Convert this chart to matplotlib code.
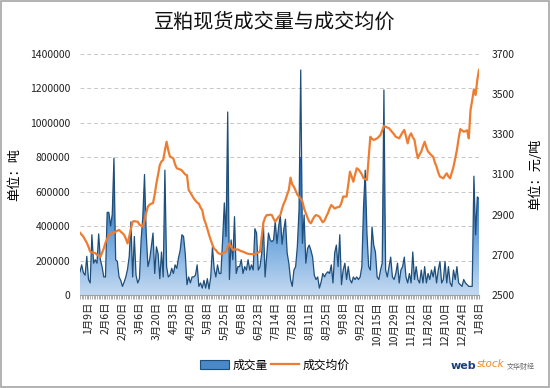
import numpy as np
import matplotlib.pyplot as plt
from matplotlib.colors import LinearSegmentedColormap
from matplotlib.patches import Patch, Rectangle
from matplotlib.lines import Line2D

plt.rcParams['font.family'] = ['Noto Sans CJK SC', 'DejaVu Sans']

# daily volume (tonnes)
volume_k = [
    135, 175, 130, 115, 225, 90, 70, 350, 185, 205,
    185, 355, 205, 165, 105, 105, 480, 480, 400, 470,
    795, 205, 195, 105, 85, 50, 75, 105, 150, 225,
    425, 105, 340, 115, 70, 95, 320, 455, 700, 360,
    165, 205, 280, 360, 125, 280, 240, 95, 250, 105,
    725, 165, 105, 115, 155, 125, 175, 155, 215, 260,
    350, 340, 240, 60, 105, 70, 105, 105, 115, 175,
    50, 70, 40, 85, 40, 95, 35, 105, 280, 155,
    105, 175, 125, 125, 320, 535, 340, 1063, 90, 320,
    205, 455, 125, 165, 165, 205, 125, 165, 145, 205,
    145, 175, 145, 385, 360, 145, 165, 240, 420, 105,
    230, 360, 320, 310, 320, 430, 300, 400, 460, 295,
    380, 440, 245, 185, 90, 50, 145, 165, 280, 495,
    1307, 300, 465, 185, 270, 290, 260, 220, 115, 90,
    105, 40, 75, 125, 105, 125, 135, 125, 175, 70,
    245, 290, 165, 350, 60, 145, 185, 90, 165, 90,
    70, 105, 90, 105, 90, 105, 165, 515, 725, 360,
    165, 145, 395, 290, 250, 105, 90, 145, 185, 1191,
    145, 105, 165, 220, 105, 90, 125, 185, 70, 145,
    165, 220, 105, 70, 125, 70, 250, 90, 165, 90,
    70, 145, 70, 165, 70, 125, 90, 145, 105, 165,
    70, 145, 195, 70, 90, 195, 70, 165, 70, 50,
    145, 90, 165, 70, 60, 50, 90, 70, 60, 50,
    50, 50, 690, 350, 570, 560,
]
volume = [v * 1000 for v in volume_k]

# average price (yuan/tonne)
price = [
    2810, 2800, 2790, 2775, 2760, 2740, 2716, 2712, 2710, 2709,
    2700, 2695, 2690, 2710, 2732, 2760, 2780, 2799, 2805, 2808,
    2810, 2815, 2820, 2824, 2815, 2808, 2799, 2780, 2757, 2790,
    2830, 2865, 2868, 2866, 2865, 2850, 2845, 2840, 2870, 2910,
    2940, 2950, 2955, 2957, 3000, 3056, 3100, 3147, 3165, 3172,
    3220, 3263, 3220, 3189, 3185, 3180, 3150, 3131, 3128, 3125,
    3120, 3110, 3100, 3097, 3023, 3010, 2995, 2981, 2970, 2960,
    2955, 2935, 2923, 2880, 2857, 2830, 2800, 2774, 2750, 2730,
    2724, 2712, 2706, 2704, 2708, 2712, 2716, 2740, 2757, 2740,
    2724, 2728, 2726, 2727, 2722, 2718, 2716, 2712, 2708, 2705,
    2704, 2704, 2703, 2704, 2708, 2712, 2716, 2790, 2860, 2885,
    2898, 2898, 2900, 2898, 2880, 2865, 2878, 2890, 2898, 2930,
    2955, 2973, 3000, 3023, 3084, 3050, 3039, 3020, 3000, 2990,
    2980, 2965, 2930, 2907, 2885, 2865, 2857, 2875, 2890, 2898,
    2895, 2890, 2875, 2862, 2870, 2890, 2907, 2930, 2948, 2940,
    2930, 2935, 2938, 2940, 2960, 2990, 2990, 2990, 3050, 3114,
    3090, 3064, 3100, 3131, 3125, 3114, 3100, 3081, 3078, 3073,
    3180, 3288, 3278, 3272, 3276, 3280, 3288, 3297, 3320, 3342,
    3338, 3334, 3330, 3320, 3310, 3300, 3288, 3284, 3280, 3295,
    3310, 3322, 3290, 3255, 3290, 3305, 3285, 3272, 3220, 3181,
    3200, 3214, 3240, 3263, 3235, 3214, 3205, 3195, 3189, 3160,
    3139, 3110, 3089, 3085, 3081, 3095, 3106, 3090, 3081, 3110,
    3139, 3180, 3222, 3280, 3326, 3320, 3313, 3316, 3320, 3280,
    3421, 3470, 3524, 3496, 3571, 3621,
]

date_labels = ['1月9日', '2月6日', '2月20日', '3月6日', '3月20日', '4月3日',
               '4月20日', '5月8日', '5月25日', '6月8日', '6月23日', '7月14日',
               '7月28日', '8月11日', '8月25日', '9月8日', '9月22日', '10月15日',
               '10月29日', '11月12日', '11月26日', '12月10日', '12月24日', '1月8日']
label_pos = [5 + 10 * k for k in range(len(date_labels))]

x = np.arange(len(volume))

fig = plt.figure(figsize=(5.5, 3.88), dpi=100)
fig.patches.append(Rectangle((0.002, 0.003), 0.996, 0.994, transform=fig.transFigure,
                             fill=False, edgecolor='#a6a6a6', linewidth=1.2))
ax = fig.add_axes([80 / 550, 1 - 295 / 388, 399 / 550, 241 / 388])

# gradient filled area
poly = ax.fill_between(x, volume, 0, color='none', linewidth=0)
cmap = LinearSegmentedColormap.from_list('blu', ['#c4daf1', '#7fb0e2', '#3b7ec6', '#1f62ad'])
grad = np.linspace(0, 1, 256).reshape(-1, 1)
im = ax.imshow(grad, cmap=cmap, origin='lower', aspect='auto',
               extent=[0, len(x) - 1, 0, 800000], zorder=1)
im.set_clip_path(poly.get_paths()[0], transform=ax.transData)
ax.plot(x, volume, color='#1f4e79', linewidth=0.9, zorder=2)

ax.set_xlim(0, len(x) - 1)
ax.set_ylim(0, 1400000)
ax.set_yticks(range(0, 1400001, 200000))
ax.set_yticklabels([str(v) for v in range(0, 1400001, 200000)])
ax.yaxis.grid(True, linestyle=(0, (4, 3)), color='#c8c8c8', linewidth=0.7)
ax.set_axisbelow(True)
for s in ['left', 'right', 'top']:
    ax.spines[s].set_visible(False)
ax.spines['bottom'].set_color('#a0a0a0')
ax.tick_params(axis='y', length=0, pad=7, labelsize=7.5, labelcolor='#222222')
ax.set_xticks(x, minor=True)
ax.set_xticks(label_pos)
ax.set_xticklabels(date_labels, rotation=90, fontsize=7.5, color='#222222')
ax.tick_params(axis='x', which='both', length=3, color='#a0a0a0', pad=2)
ax.set_ylabel('单位：吨', fontsize=9.5, labelpad=6)

ax2 = ax.twinx()
ax2.plot(x, price, color='#ed7d31', linewidth=1.6, zorder=3)
ax2.set_ylim(2500, 3700)
ax2.set_yticks(range(2500, 3701, 200))
for s in ['left', 'right', 'top', 'bottom']:
    ax2.spines[s].set_visible(False)
ax2.tick_params(axis='y', length=0, pad=9, labelsize=7.5, labelcolor='#222222')
ax2.set_ylabel('单位：元/吨', fontsize=9.5, labelpad=10)

fig.text(0.5, 1 - 22 / 388, '豆粕现货成交量与成交均价', ha='center', va='center',
         fontsize=14.5, color='#111111')

handles = [Patch(facecolor='#4a88c8', edgecolor='#1f4e79', linewidth=0.8),
           Line2D([0], [0], color='#ed7d31', linewidth=1.6)]
fig.legend(handles, ['成交量', '成交均价'], loc='center', bbox_to_anchor=(0.5, 1 - 365 / 388),
           ncol=2, frameon=False, fontsize=8.5, handlelength=2.4, handleheight=0.8,
           columnspacing=0.3, handletextpad=0.3)

# logo
fig.text(451 / 550, 1 - 366 / 388, 'web', fontsize=8, fontweight='bold', color='#1b3f7a',
         ha='left', va='center', family='DejaVu Sans')
fig.text(477 / 550, 1 - 364 / 388, 'stock', fontsize=7.5, color='#f08a24',
         ha='left', va='center', family='DejaVu Sans', style='italic')
fig.text(507 / 550, 1 - 367 / 388, '文华财经', fontsize=5, color='#666666', ha='left', va='center')

fig.savefig('out.png', dpi=100)
